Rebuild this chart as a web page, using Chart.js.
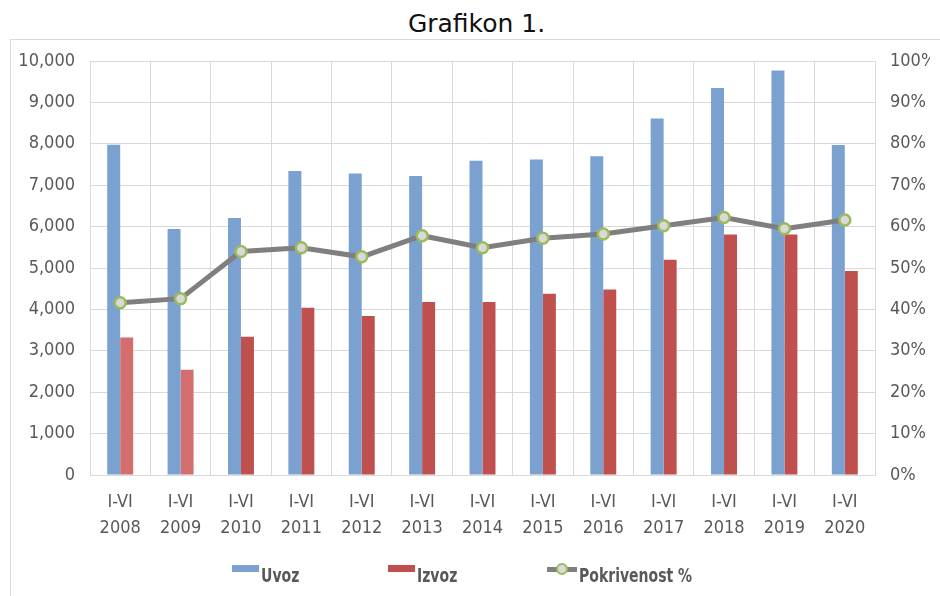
<!DOCTYPE html>
<html>
<head>
<meta charset="utf-8">
<script src="https://cdn.jsdelivr.net/npm/chart.js@4"></script>
<style>
  body { margin: 0; background: #fff; }
  #wrap { position: relative; width: 940px; height: 596px; overflow: hidden; font-family: "DejaVu Sans", sans-serif; }
  #frame { position: absolute; left: 10px; top: 39px; width: 960px; height: 600px; border-left: 1px solid #d9d9d9; border-top: 1px solid #d9d9d9; }
  #title { position: absolute; left: 0; top: 9px; width: 953px; text-align: center; font-size: 25px; line-height: 30px; color: #111; }
  canvas { position: absolute; left: 0; top: 0; }
  .leg { position: absolute; top: 565px; height: 20px; line-height: 20px; display: flex; align-items: flex-start;
         font-family: "DejaVu Sans Condensed", "DejaVu Sans", sans-serif; font-weight: bold; font-size: 19px; color: #595959; white-space: nowrap; }
  .leg .txt { display: inline-block; transform: scaleX(0.82); transform-origin: left center; }
  .leg .box { width: 27px; height: 7px; margin-top: 0px; margin-right: 2px; }
  .leg .sym { position: relative; width: 30px; height: 12px; margin-top: -2px; margin-right: 2px; }
  .leg .sym .ln { position: absolute; left: 0; right: 0; top: 4px; height: 5px; background: #7f7f7f; }
  .leg .sym .pt { position: absolute; left: 9px; top: 0px; width: 8px; height: 8px; border: 2.5px solid #9bbb59; border-radius: 50%; background: #d9d9d9; }
</style>
</head>
<body>
<div id="wrap">
  <div id="frame"></div>
  <div id="title">Grafikon 1.</div>
  <canvas id="chart" width="940" height="596"></canvas>
  <div class="leg" style="left:232px"><span class="box" id="boxUvoz"></span><span class="txt">Uvoz</span></div>
  <div class="leg" style="left:388px"><span class="box" id="boxIzvoz"></span><span class="txt">Izvoz</span></div>
  <div class="leg" style="left:547px"><span class="sym"><span class="ln"></span><span class="pt"></span></span><span class="txt">Pokrivenost %</span></div>
</div>
<script>
// Podaci
const periodi = ['I-VI', 'I-VI', 'I-VI', 'I-VI', 'I-VI', 'I-VI', 'I-VI', 'I-VI', 'I-VI', 'I-VI', 'I-VI', 'I-VI', 'I-VI'];
const godine = ['2008', '2009', '2010', '2011', '2012', '2013', '2014', '2015', '2016', '2017', '2018', '2019', '2020'];
const uvoz = [7980, 5940, 6210, 7340, 7280, 7220, 7590, 7620, 7700, 8610, 9350, 9770, 7970];
const izvoz = [3320, 2540, 3340, 4040, 3840, 4180, 4180, 4380, 4480, 5200, 5810, 5810, 4930];
const pokrivenost = [41.6, 42.6, 54.0, 54.9, 52.7, 57.8, 54.9, 57.2, 58.2, 60.2, 62.2, 59.5, 61.6];
const lijeviTicks = [0, 1000, 2000, 3000, 4000, 5000, 6000, 7000, 8000, 9000, 10000];
const desniTicks = [0, 10, 20, 30, 40, 50, 60, 70, 80, 90, 100];

const plava = '#7ba1d1';
const crvena = '#c0504d';
const svijetloCrvena = '#d46e6e';
const sivaTekst = '#595959';
const mreza = '#d9d9d9';

document.getElementById('boxUvoz').style.background = plava;
document.getElementById('boxIzvoz').style.background = crvena;

const labels = godine.map(function (g, i) { return [periodi[i], g]; });
const tickFont = { family: '"DejaVu Sans Condensed", "DejaVu Sans", sans-serif', size: 18 };

const ctx = document.getElementById('chart').getContext('2d');
const grafikon = new Chart(ctx, {
  type: 'bar',
  data: {
    labels: labels,
    datasets: [
      {
        label: 'Uvoz',
        data: uvoz,
        backgroundColor: plava,
        yAxisID: 'y',
        order: 2,
        categoryPercentage: 0.43,
        barPercentage: 1
      },
      {
        label: 'Izvoz',
        data: izvoz,
        // prve dvije godine su svjetlije na originalu
        backgroundColor: izvoz.map(function (v, i) { return i < 2 ? svijetloCrvena : crvena; }),
        yAxisID: 'y',
        order: 2,
        categoryPercentage: 0.43,
        barPercentage: 1
      },
      {
        type: 'line',
        label: 'Pokrivenost %',
        data: pokrivenost,
        yAxisID: 'y1',
        borderColor: '#7f7f7f',
        borderWidth: 5,
        tension: 0,
        pointRadius: 5.5,
        pointHoverRadius: 5.5,
        pointBackgroundColor: '#d9d9d9',
        pointBorderColor: '#9bbb59',
        pointBorderWidth: 2.5,
        order: 0
      }
    ]
  },
  options: {
    responsive: false,
    animation: false,
    layout: { padding: { left: 10, right: 10, top: 61, bottom: 61 } },
    plugins: {
      legend: { display: false },
      title: { display: false },
      tooltip: { enabled: false }
    },
    scales: {
      x: {
        grid: { color: mreza, drawTicks: false, offset: true },
        border: { color: mreza },
        ticks: { color: sivaTekst, font: Object.assign({ lineHeight: 1.42 }, tickFont), padding: 15, maxRotation: 0, autoSkip: false },
        afterFit: function (scale) { scale.height = 60; }
      },
      y: {
        position: 'left',
        min: 0,
        max: 10000,
        afterBuildTicks: function (scale) { scale.ticks = lijeviTicks.map(function (v) { return { value: v }; }); },
        grid: { color: mreza, drawTicks: false },
        border: { display: false },
        ticks: {
          color: sivaTekst,
          font: tickFont,
          padding: 15,
          callback: function (v) { return v.toLocaleString('en-US'); }
        },
        afterFit: function (scale) { scale.width = 80; }
      },
      y1: {
        position: 'right',
        min: 0,
        max: 100,
        afterBuildTicks: function (scale) { scale.ticks = desniTicks.map(function (v) { return { value: v }; }); },
        grid: { drawOnChartArea: false, drawTicks: false },
        border: { display: false },
        ticks: {
          color: sivaTekst,
          font: tickFont,
          padding: 15,
          callback: function (v) { return v + '%'; }
        },
        afterFit: function (scale) { scale.width = 55; }
      }
    }
  }
});
</script>
</body>
</html>
